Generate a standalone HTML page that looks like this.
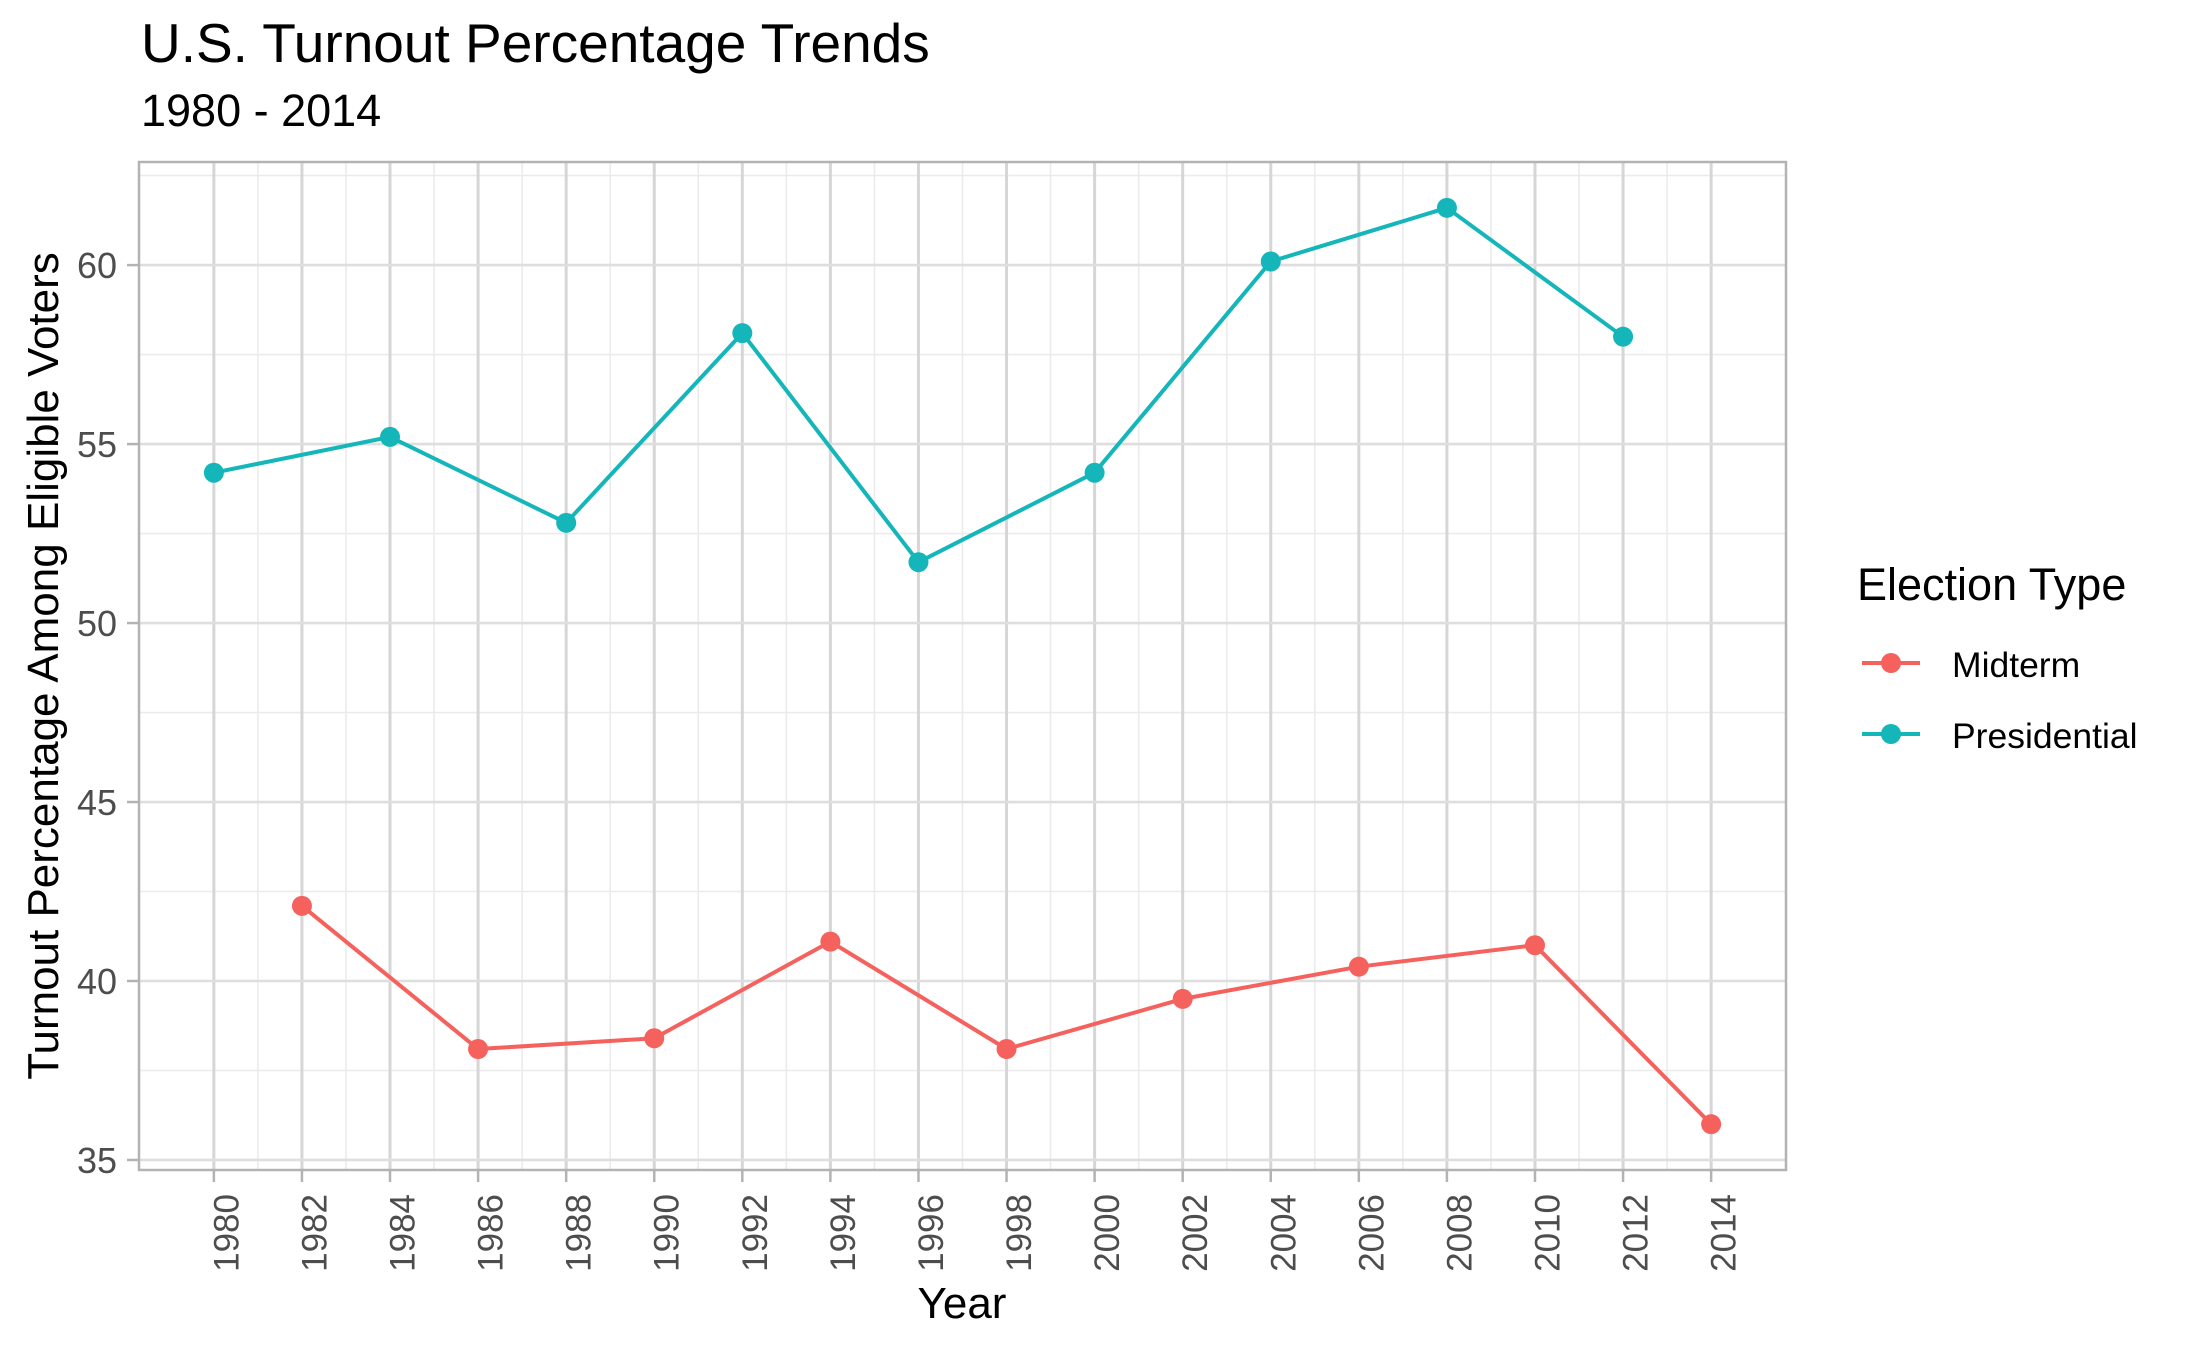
<!DOCTYPE html>
<html><head><meta charset="utf-8"><style>
html,body{margin:0;padding:0;background:#fff;}
svg{display:block;font-family:"Liberation Sans",Arial,sans-serif;}
</style></head><body>
<svg id="chart" width="2187" height="1351" viewBox="0 0 2187 1351" xmlns="http://www.w3.org/2000/svg">
<rect width="2187" height="1351" fill="#fff"/>
<text x="141" y="62" font-size="55" fill="#000">U.S. Turnout Percentage Trends</text>
<text x="141" y="126" font-size="45" fill="#000">1980 - 2014</text>
<g id="grid"></g>
<g id="series"></g>
<rect x="139" y="162" width="1647" height="1008" fill="none" stroke="#b3b3b3" stroke-width="2.5"/>
<g id="axes"></g>
<text x="962" y="1318" font-size="44" text-anchor="middle" fill="#000">Year</text>
<text transform="translate(58,666) rotate(-90)" font-size="44" text-anchor="middle" fill="#000">Turnout Percentage Among Eligible Voters</text>
<g>
<text x="1857" y="600" font-size="45" fill="#000">Election Type</text>
<g>
<line x1="1862" y1="663" x2="1920" y2="663" stroke="#F5625E" stroke-width="4"/>
<circle cx="1891" cy="663" r="10" fill="#F5625E"/>
<text x="1952" y="677" font-size="35.5" fill="#000">Midterm</text>
</g>
<g>
<line x1="1862" y1="734" x2="1920" y2="734" stroke="#14B6BA" stroke-width="4"/>
<circle cx="1891" cy="734" r="10" fill="#14B6BA"/>
<text x="1952" y="748" font-size="35.5" fill="#000">Presidential</text>
</g>
</g>
</svg>
<script>
const presYears = [1980,1984,1988,1992,1996,2000,2004,2008,2012];
const presValues = [54.2,55.2,52.8,58.1,51.7,54.2,60.1,61.6,58.0];
const midYears = [1982,1986,1990,1994,1998,2002,2006,2010,2014];
const midValues = [42.1,38.1,38.4,41.1,38.1,39.5,40.4,41.0,36.0];
const xTicks = [1980,1982,1984,1986,1988,1990,1992,1994,1996,1998,2000,2002,2004,2006,2008,2010,2012,2014];
const yTicks = [35,40,45,50,55,60];

const NS='http://www.w3.org/2000/svg';
const L=139,R=1786,T=162,B=1170;
const allV=presValues.concat(midValues), allY=presYears.concat(midYears);
const vMin=Math.min(...allV), vMax=Math.max(...allV), yrMin=Math.min(...allY), yrMax=Math.max(...allY);
const xd0=yrMin-(yrMax-yrMin)*0.05, xd1=yrMax+(yrMax-yrMin)*0.05;
const yd0=vMin-(vMax-vMin)*0.05, yd1=vMax+(vMax-vMin)*0.05;
const xs=v=>L+(v-xd0)/(xd1-xd0)*(R-L);
const ys=v=>B-(v-yd0)/(yd1-yd0)*(B-T);
function mk(tag,attrs,parent){const e=document.createElementNS(NS,tag);for(const k in attrs)e.setAttribute(k,attrs[k]);parent.appendChild(e);return e;}
const grid=document.getElementById('grid'), series=document.getElementById('series'), axes=document.getElementById('axes');
for(let i=0;i<xTicks.length-1;i++){const v=(xTicks[i]+xTicks[i+1])/2;const e=mk('line',{x1:xs(v),x2:xs(v),y1:T,y2:B,stroke:'#ebebeb','stroke-width':1.6},grid);

}
for(let i=0;i<yTicks.length;i++){const v=yTicks[i]+2.5;if(ys(v)<T)continue;const e=mk('line',{x1:L,x2:R,y1:ys(v),y2:ys(v),stroke:'#ebebeb','stroke-width':1.6},grid);

}
xTicks.forEach(v=>{const e=mk('line',{x1:xs(v),x2:xs(v),y1:T,y2:B,stroke:'#d6d6d6','stroke-width':3},grid);

});
yTicks.forEach(v=>{const e=mk('line',{x1:L,x2:R,y1:ys(v),y2:ys(v),stroke:'#dedede','stroke-width':2.6},grid);

});
xTicks.forEach(v=>{const x=xs(v);const t=mk('line',{x1:x,x2:x,y1:B,y2:B+12,stroke:'#b3b3b3','stroke-width':2.5},axes);


const lb=mk('text',{transform:`translate(${x+13},${B+24}) rotate(-90)`,'font-size':35,fill:'#4d4d4d','text-anchor':'end','dominant-baseline':'central'},axes);lb.textContent=v;

});
yTicks.forEach(v=>{const y=ys(v);const t=mk('line',{x1:L-12,x2:L,y1:y,y2:y,stroke:'#b3b3b3','stroke-width':2.5},axes);


const lb=mk('text',{x:117,y:y+13,'font-size':36,fill:'#4d4d4d','text-anchor':'end'},axes);lb.textContent=v;

});
function draw(years,vals,color,name){
const pl=mk('polyline',{points:years.map((y,i)=>xs(y)+','+ys(vals[i])).join(' '),fill:'none',stroke:color,'stroke-width':4,'stroke-linejoin':'round'},series);


years.forEach((y,i)=>{const c=mk('circle',{cx:xs(y),cy:ys(vals[i]),r:10,fill:color},series);

});
}
draw(midYears,midValues,'#F5625E','midterm');
draw(presYears,presValues,'#14B6BA','presidential');
</script>
</body></html>
